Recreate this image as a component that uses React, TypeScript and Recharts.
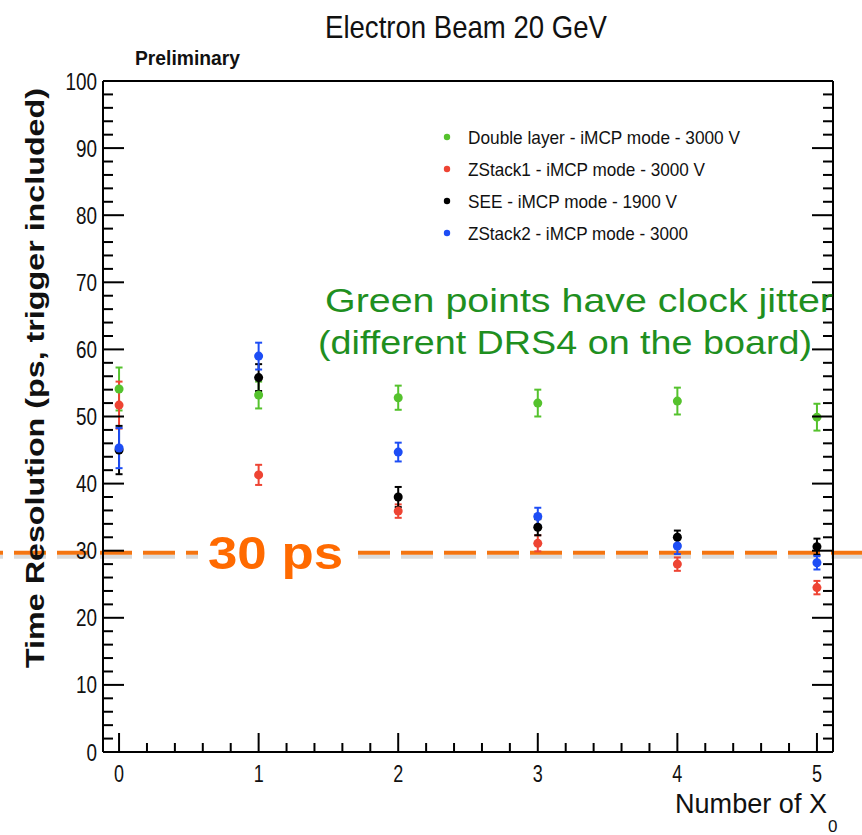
import React from 'react';
import { ScatterChart, Scatter, XAxis, YAxis, ErrorBar, ReferenceLine, Legend } from 'recharts';

// Number of X0 in front of the MCP
const positions = [0, 1, 2, 3, 4, 5];

// time resolution (ps) and errors
const doubleLayer = [54.1, 53.2, 52.8, 52.0, 52.3, 49.9];
const doubleLayerErr = [3.2, 2.0, 1.8, 2.0, 2.0, 2.0];
const zstack1 = [51.7, 41.3, 35.9, 31.1, 28.0, 24.5];
const zstack1Err = [3.5, 1.5, 1.0, 1.2, 1.0, 1.0];
const see = [45.0, 55.8, 38.0, 33.5, 32.0, 30.6];
const seeErr = [3.6, 2.0, 1.5, 1.2, 1.0, 1.2];
const zstack2 = [45.3, 59.0, 44.7, 35.1, 30.7, 28.2];
const zstack2Err = [3.0, 2.0, 1.4, 1.3, 1.2, 1.0];

const yMajor = [0, 10, 20, 30, 40, 50, 60, 70, 80, 90, 100];
const xMajor = [0, 1, 2, 3, 4, 5];
const target = 29.7;

const FONT = '"Liberation Sans Narrow", "Liberation Sans", Arial, sans-serif';
const SANS = '"Liberation Sans", Arial, sans-serif';

// minor ticks: 5 per y division, 5 per x division
const yTicks: number[] = [];
yMajor.forEach((v, i) => {
  yTicks.push(v);
  if (i < yMajor.length - 1) for (let k = 1; k < 5; k++) yTicks.push(v + k * 2);
});
const xTicks: number[] = [];
xMajor.forEach((v, i) => {
  xTicks.push(v);
  if (i < xMajor.length - 1) for (let k = 1; k < 5; k++) xTicks.push(v + k / 5);
});
const isMajor = (v: number, step: number) => Math.abs(v / step - Math.round(v / step)) < 1e-6;

const toPoints = (vals: number[], errs: number[]) =>
  positions.map((x, i) => ({ x, y: vals[i], err: errs[i] }));

const series = [
  { name: 'Double layer - iMCP mode - 3000 V', color: '#55c22d', data: toPoints(doubleLayer, doubleLayerErr), w: 272 },
  { name: 'ZStack1 - iMCP mode - 3000 V', color: '#ee4433', data: toPoints(zstack1, zstack1Err), w: 237 },
  { name: 'SEE - iMCP mode - 1900 V', color: '#000000', data: toPoints(see, seeErr), w: 209 },
  { name: 'ZStack2 - iMCP mode - 3000', color: '#1d4df5', data: toPoints(zstack2, zstack2Err), w: 220 },
];

const LeftTick = (p: any) => {
  const v = p.payload.value;
  const major = isMajor(v, 10);
  const label = String(v);
  return (
    <g>
      <line x1={p.x} y1={p.y} x2={p.x + (major ? 21 : 10)} y2={p.y} stroke="#000" strokeWidth={2} />
      {major && (
        <text x={p.x - 6} y={p.y + 8.5} textAnchor="end" fontFamily={FONT} fontSize={23}
          textLength={label.length * 10.5} lengthAdjust="spacingAndGlyphs" fill="#111">{label}</text>
      )}
    </g>
  );
};

const RightTick = (p: any) => {
  const major = isMajor(p.payload.value, 10);
  return <line x1={p.x} y1={p.y} x2={p.x - (major ? 21 : 10)} y2={p.y} stroke="#000" strokeWidth={2} />;
};

const BottomTick = (p: any) => {
  const v = p.payload.value;
  const major = isMajor(v, 1);
  return (
    <g>
      <line x1={p.x} y1={p.y} x2={p.x} y2={p.y - (major ? 19 : 9)} stroke="#000" strokeWidth={2} />
      {major && (
        <text x={p.x} y={p.y + 30} textAnchor="middle" fontFamily={FONT} fontSize={24}
          textLength={10} lengthAdjust="spacingAndGlyphs" fill="#111">{String(Math.round(v))}</text>
      )}
    </g>
  );
};

const TopTick = (p: any) => {
  const major = isMajor(p.payload.value, 1);
  return <line x1={p.x} y1={p.y} x2={p.x} y2={p.y + (major ? 19 : 9)} stroke="#000" strokeWidth={2} />;
};

const LegendBox = () => (
  <svg width={360} height={130}>
    {series.map((s, i) => (
      <g key={s.name}>
        <circle cx={17} cy={19 + i * 32} r={3.2} fill={s.color} />
        <text x={38} y={26 + i * 32} fontFamily={FONT} fontSize={19} fill="#111"
          textLength={s.w} lengthAdjust="spacingAndGlyphs">{s.name}</text>
      </g>
    ))}
  </svg>
);

const DashedTarget = (p: any) => (
  <g>
    <line x1={0} y1={p.y1 + 4} x2={862} y2={p.y2 + 4} stroke="#b8b8b8" strokeOpacity={0.5}
      strokeWidth={4} strokeDasharray="32 11" strokeDashoffset={29} />
    <line x1={0} y1={p.y1} x2={862} y2={p.y2} stroke="#f47410" strokeWidth={4}
      strokeDasharray="32 11" strokeDashoffset={29} />
  </g>
);

export default function App() {
  return (
    <div style={{ position: 'absolute', left: 0, top: 0, width: 862, height: 835, background: '#fff' }}>
      <ScatterChart width={862} height={835} margin={{ top: 0, right: 0, bottom: 0, left: 0 }}>
        <XAxis type="number" dataKey="x" domain={[-0.115, 5.115]} ticks={xTicks} interval={0}
          height={83} tickSize={0} tickMargin={0} tickLine={false} tick={BottomTick}
          axisLine={{ stroke: '#000', strokeWidth: 2 }} allowDataOverflow />
        <XAxis xAxisId="top" orientation="top" type="number" domain={[-0.115, 5.115]} ticks={xTicks}
          interval={0} height={81} tickSize={0} tickMargin={0} tickLine={false} tick={TopTick}
          axisLine={{ stroke: '#000', strokeWidth: 2 }} allowDataOverflow />
        <YAxis type="number" dataKey="y" domain={[0, 100]} ticks={yTicks} interval={0} width={103}
          tickSize={0} tickMargin={0} tickLine={false} tick={LeftTick}
          axisLine={{ stroke: '#000', strokeWidth: 2 }} allowDataOverflow />
        <YAxis yAxisId="right" orientation="right" type="number" domain={[0, 100]} ticks={yTicks}
          interval={0} width={29} tickSize={0} tickMargin={0} tickLine={false} tick={RightTick}
          axisLine={{ stroke: '#000', strokeWidth: 2 }} allowDataOverflow />
        <ReferenceLine y={target} shape={DashedTarget} />
        {series.map((s) => (
          <Scatter key={s.name} name={s.name} data={s.data} fill={s.color} isAnimationActive={false}
            shape={(p: any) => <circle cx={p.cx} cy={p.cy} r={4.5} fill={s.color} />}>
            <ErrorBar dataKey="err" direction="y" width={3.5} strokeWidth={2} stroke={s.color} />
          </Scatter>
        ))}
        <Legend layout="vertical" align="center" verticalAlign="middle" content={LegendBox}
          wrapperStyle={{ position: 'absolute', top: 118, left: 430, width: 360, height: 130 }} />
      </ScatterChart>
      <svg width={862} height={835} style={{ position: 'absolute', left: 0, top: 0, pointerEvents: 'none' }}>
        <text x={325} y={38} fontFamily={FONT} fontSize={32} fill="#111" textLength={282}
          lengthAdjust="spacingAndGlyphs">Electron Beam 20 GeV</text>
        <text x={135} y={65} fontFamily={FONT} fontSize={21} fontWeight="bold" fill="#111" textLength={105}
          lengthAdjust="spacingAndGlyphs">Preliminary</text>
        <text transform="translate(44,378) rotate(-90)" textAnchor="middle" fontFamily={FONT} fontSize={25}
          fontWeight="bold" fill="#111" textLength={580} lengthAdjust="spacingAndGlyphs">
          Time Resolution (ps, trigger included)
        </text>
        <text x={675} y={813} fontFamily={FONT} fontSize={28} fill="#111" textLength={152}
          lengthAdjust="spacingAndGlyphs">Number of X</text>
        <text x={828} y={832} fontFamily={FONT} fontSize={17} fill="#111">0</text>
        <text x={325} y={312} fontFamily={SANS} fontSize={34} fill="#1f8f1f"
          textLength={508} lengthAdjust="spacingAndGlyphs">Green points have clock jitter</text>
        <text x={318} y={354} fontFamily={SANS} fontSize={34} fill="#1f8f1f"
          textLength={494} lengthAdjust="spacingAndGlyphs">(different DRS4 on the board)</text>
        <rect x={198} y={524} width={157} height={56} fill="#fff" />
        <text x={208} y={569} fontFamily={SANS} fontSize={46} fontWeight="bold"
          fill="#ff6a00" textLength={135} lengthAdjust="spacingAndGlyphs">30 ps</text>
      </svg>
    </div>
  );
}
